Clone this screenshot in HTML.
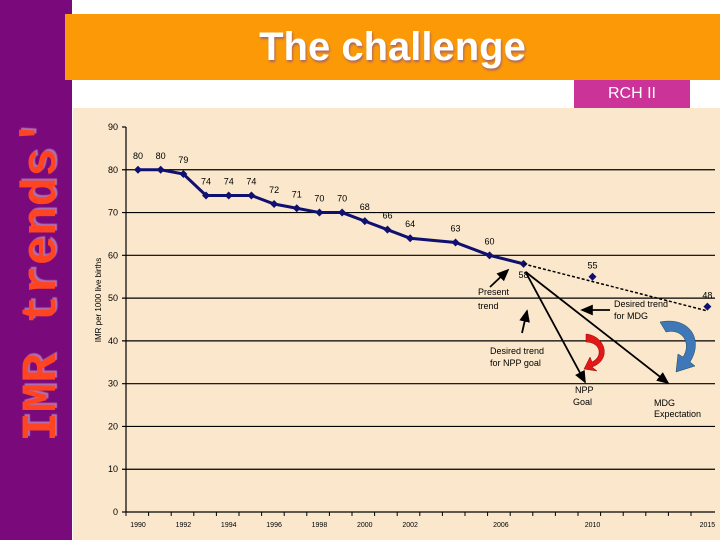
<!DOCTYPE html>
<html><head><meta charset="utf-8"><style>
body{margin:0;width:720px;height:540px;overflow:hidden;background:#fff;font-family:"Liberation Sans",sans-serif;position:relative}
</style></head><body>
<div style="position:absolute;left:0;top:0;width:72px;height:540px;background:#7a0a7c"></div>
<div style="position:absolute;left:65px;top:14px;width:655px;height:66px;background:#fb9a06;text-align:center;line-height:66px;color:#fff;font-weight:bold;font-size:40px;text-shadow:1px 2px 2px #a66">The challenge</div>
<div style="position:absolute;left:574px;top:80px;width:116px;height:28px;background:#cc3399;color:#fff;font-size:16px;text-align:center;line-height:28px">RCH II</div>
<div style="position:absolute;left:73px;top:108px;width:647px;height:432px;background:#fbe8cc"></div>
<div style="position:absolute;left:42px;top:280px;transform:translate(-50%,-50%) rotate(-90deg);white-space:nowrap;font-family:'Liberation Mono',monospace;font-weight:bold;font-size:49px;color:#ff4422;text-shadow:2px 2px 1px #b070b0">IMR trends'</div>
<svg id="c" width="720" height="540" style="position:absolute;left:0;top:0" font-family="Liberation Sans, sans-serif"></svg>
<script>
const years=[1990,1991,1992,1993,1994,1995,1996,1997,1998,1999,2000,2001,2002,2004,2005.5,2007];
const values=[80,80,79,74,74,74,72,71,70,70,68,66,64,63,60,58];
const goalYears=[2010,2015];
const goalValues=[55,48];
const yTicks=[0,10,20,30,40,50,60,70,80,90];
const xTickLabels=[1990,1992,1994,1996,1998,2000,2002,2006,2010,2015];
const trendEnd=[2015,47];
const svg=document.getElementById('c');
const NS='http://www.w3.org/2000/svg';
const x=v=>138+(v-1990)*22.68*(1-0)+ (v>2007?(v-2007)*0.3:0);
const y=v=>512-v*(385/90);
function mk(t,a,txt){const e=document.createElementNS(NS,t);for(const k in a)e.setAttribute(k,a[k]);if(txt!==undefined)e.textContent=txt;svg.appendChild(e);return e;}
// defs
const d=mk('defs',{});d.innerHTML='<marker id="ah" markerWidth="8" markerHeight="8" refX="6" refY="3" orient="auto"><path d="M0,0 L7,3 L0,6 z" fill="#000"/></marker>';
// grid & y ticks
yTicks.forEach(t=>{
 const g=mk('line',{x1:122,x2:t===0||t===90?126:715,y1:y(t),y2:y(t),stroke:'#000','stroke-width':1.2});
 
 const l=mk('text',{x:118,y:y(t)+3,'font-size':9,'text-anchor':'end',fill:'#000'},t);
 
});
mk('line',{x1:126,x2:126,y1:y(90),y2:y(0),stroke:'#000','stroke-width':1.2});
mk('line',{x1:126,x2:715,y1:y(0),y2:y(0),stroke:'#000','stroke-width':1.2});
xTickLabels.forEach(t=>{
 const l=mk('text',{x:x(t),y:527,'font-size':7,'text-anchor':'middle',fill:'#000'},t);
 
});
for(let i=0;i<26;i++){mk('line',{x1:126+i*22.6,x2:126+i*22.6,y1:512,y2:516,stroke:'#000'});}
const yt=mk('text',{x:0,y:0,'font-size':8,'text-anchor':'middle',transform:'translate(101,300) rotate(-90)'},'IMR per 1000 live births');

// series line
const pl=mk('polyline',{points:years.map((v,i)=>x(v)+','+y(values[i])).join(' '),fill:'none',stroke:'#101070','stroke-width':3});

years.forEach((v,i)=>{
 const cx=x(v),cy=y(values[i]);
 const p=mk('path',{d:`M${cx},${cy-4}L${cx+4},${cy}L${cx},${cy+4}L${cx-4},${cy}z`,fill:'#101070'});
 
 const t=mk('text',{x:cx,y:i===15?cy+14:cy-11,'font-size':9,'text-anchor':'middle'},values[i]);
 
});
// dotted trend
const last=years.length-1;
const dl=mk('line',{x1:x(years[last]),y1:y(values[last]),x2:x(trendEnd[0]),y2:y(trendEnd[1]),stroke:'#000','stroke-width':1.5,'stroke-dasharray':'3,2'});

goalYears.forEach((v,i)=>{
 const cx=x(v),cy=y(goalValues[i]);
 const p=mk('path',{d:`M${cx},${cy-4}L${cx+4},${cy}L${cx},${cy+4}L${cx-4},${cy}z`,fill:'#101070'});
 
 const t=mk('text',{x:cx,y:cy-8,'font-size':9,'text-anchor':'middle'},goalValues[i]);
 
});
// annotation arrows
const sx=x(years[last])+2,sy=y(values[last])+8;
[[sx,sy,585,382,'npp-arrow'],[sx,sy,668,383,'mdg-arrow'],[490,287,508,270,'present-trend-arrow'],[522,333,527,311,'npp-trend-arrow'],[610,310,582,310,'mdg-trend-arrow']].forEach(a=>{
 const l=mk('line',{x1:a[0],y1:a[1],x2:a[2],y2:a[3],stroke:'#000','stroke-width':1.8,'marker-end':'url(#ah)'});
 
});
[['Present',478,295],['trend',478,309],['Desired trend',614,307],['for MDG',614,319],['Desired trend',490,354],['for NPP goal',490,366],['NPP',575,393],['Goal',573,405],['MDG',654,406],['Expectation',654,417]].forEach(a=>{
 const t=mk('text',{x:a[1],y:a[2],'font-size':9},a[0]);
 
});
const r=mk('path',{d:'M586,334 C606,336 612,360 592,367 L597,371 L584,369 L590,357 L592,362 C604,356 600,342 586,342 Z',fill:'#e01818',stroke:'#900','stroke-width':0.5});

const b=mk('path',{d:'M660,322 C690,316 704,340 690,362 L695,366 L676,372 L678,354 L683,357 C692,343 682,328 666,332 Z',fill:'#3f78b8',stroke:'#244','stroke-width':0.5});

</script>
</body></html>
